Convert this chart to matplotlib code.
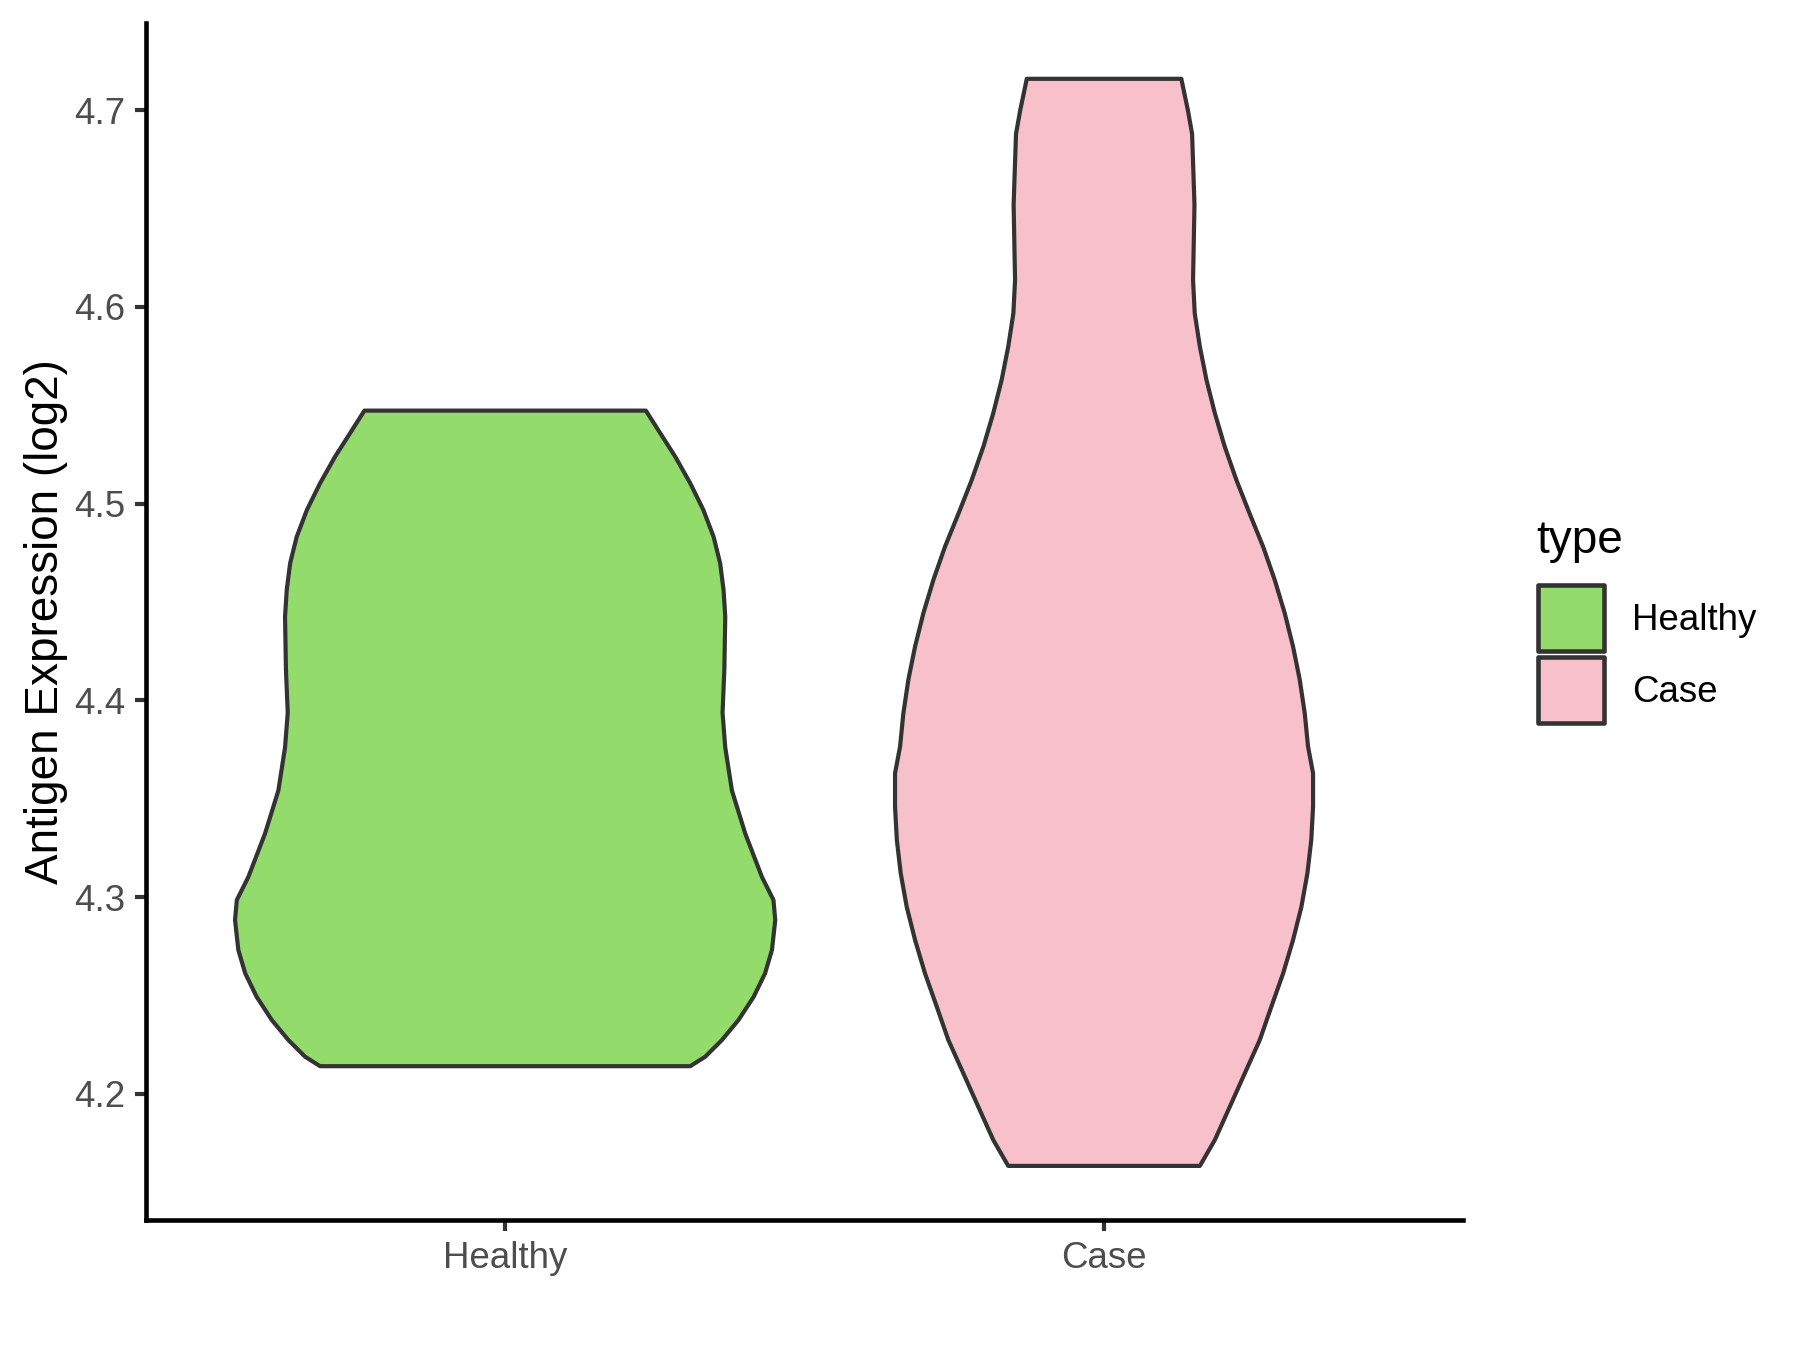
import matplotlib
matplotlib.use("Agg")
import matplotlib.pyplot as plt
from matplotlib.patches import Rectangle
import numpy as np

plt.rcParams['font.family'] = ['Liberation Sans', 'DejaVu Sans']

categories = ["Healthy", "Case"]
colors = {"Healthy": "#93DC6B", "Case": "#F7C0CB"}

# violin outline: y values and half-widths (x units)
healthy_y = [4.5473, 4.5358, 4.5239, 4.5104, 4.4968, 4.4832, 4.4697, 4.4561, 4.4426,
             4.4156, 4.3937, 4.3761, 4.3541, 4.3322, 4.3102, 4.2985, 4.2883, 4.2731,
             4.2612, 4.2493, 4.2375, 4.2273, 4.2188, 4.2140]
healthy_hw = [0.235, 0.259, 0.284, 0.309, 0.331, 0.348, 0.359, 0.3647, 0.3675,
              0.366, 0.363, 0.3675, 0.3787, 0.401, 0.4288, 0.448, 0.451, 0.4455,
              0.434, 0.415, 0.3897, 0.362, 0.334, 0.309]

case_y = [4.716, 4.700, 4.688, 4.652, 4.6137, 4.5968, 4.5798, 4.5629, 4.546, 4.529,
          4.512, 4.495, 4.4782, 4.4612, 4.4443, 4.4273, 4.4104, 4.3934, 4.3765,
          4.3629, 4.346, 4.329, 4.312, 4.295, 4.2782, 4.2612, 4.2443, 4.2273,
          4.2104, 4.1934, 4.1765, 4.1633]
case_hw = [0.129, 0.140, 0.147, 0.151, 0.1486, 0.1514, 0.160, 0.171, 0.185, 0.2015,
           0.221, 0.243, 0.2655, 0.285, 0.3017, 0.3156, 0.3268, 0.3351, 0.3406,
           0.349, 0.349, 0.346, 0.3395, 0.3295, 0.3156, 0.299, 0.2794, 0.260,
           0.235, 0.210, 0.185, 0.160]

yticks = [4.2, 4.3, 4.4, 4.5, 4.6, 4.7]

profiles = {"Healthy": (healthy_y, healthy_hw), "Case": (case_y, case_hw)}

fig = plt.figure(figsize=(6, 4.5), dpi=300)
ax = fig.add_axes([0.081, 0.0963, 0.732, 0.8867])

edge = "#333333"
for i, cat in enumerate(categories):
    pos = i + 1
    ys, hw = profiles[cat]
    ys = np.asarray(ys)
    hw = np.asarray(hw)
    xs = np.concatenate([pos - hw, (pos + hw)[::-1]])
    yy = np.concatenate([ys, ys[::-1]])
    ax.fill(xs, yy, facecolor=colors[cat], edgecolor=edge, linewidth=1.0,
            joinstyle='round', zorder=2)

ax.set_xlim(0.4, 2.6)
ax.set_ylim(4.1358, 4.7444)
ax.set_xticks([1, 2])
ax.set_xticklabels(categories)
ax.set_yticks(yticks)
ax.set_yticklabels([f"{v:.1f}" for v in yticks])

for s in ["top", "right"]:
    ax.spines[s].set_visible(False)
for s in ["left", "bottom"]:
    ax.spines[s].set_linewidth(1.1)
    ax.spines[s].set_color("black")

ax.tick_params(axis="both", length=2.75, width=1.0, color=edge,
               labelsize=8.8, labelcolor="#4D4D4D", pad=2.2)
ax.set_ylabel("Antigen Expression (log2)", fontsize=11, color="black", labelpad=1.4)

# legend (drawn in figure coordinates)
fig.text(0.8537, 0.5901, "type", fontsize=11, color="black", ha="left", va="baseline")
key_x, key_w, key_h = 0.8547, 0.03639, 0.04852
key_bottoms = [0.5181, 0.4648]
label_base = [0.5331, 0.4798]
for cat, kb, lb in zip(categories, key_bottoms, label_base):
    fig.patches.append(Rectangle((key_x, kb), key_w, key_h, transform=fig.transFigure,
                                 facecolor=colors[cat], edgecolor=edge, linewidth=1.1,
                                 joinstyle='round', figure=fig))
    fig.text(0.9065, lb, cat, fontsize=8.8, color="black", ha="left", va="baseline")

fig.savefig("out.png", dpi=300, facecolor="white")
